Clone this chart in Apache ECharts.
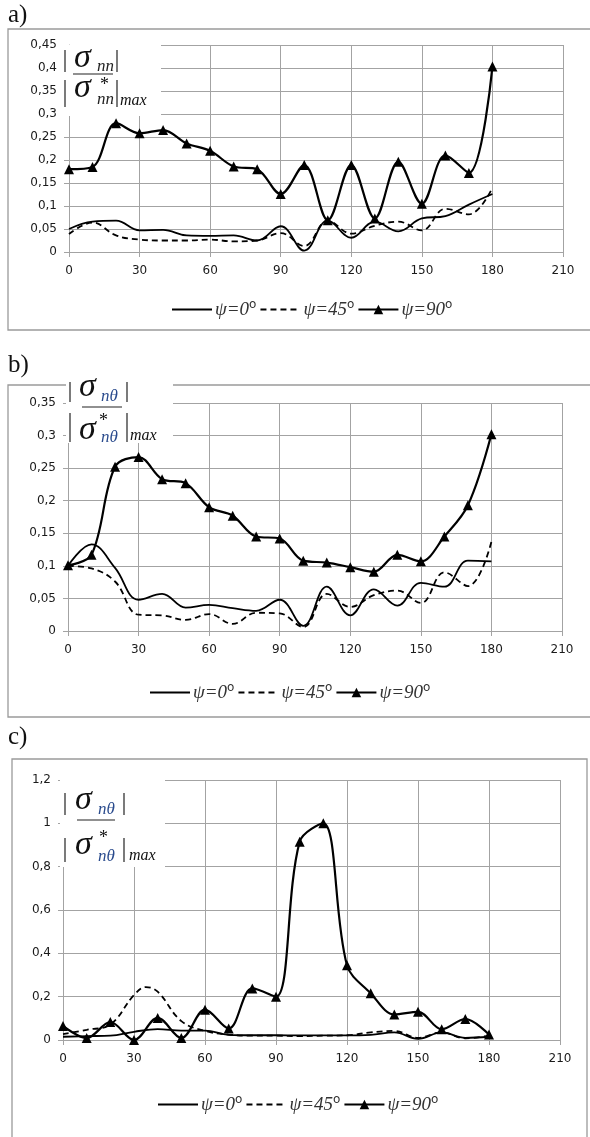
<!DOCTYPE html>
<html>
<head>
<meta charset="utf-8">
<script src="https://cdn.jsdelivr.net/npm/echarts@6/dist/echarts.min.js"></script>
<style>
html,body{margin:0;padding:0;background:#fff;}
#chart{width:590px;height:1137px;}
</style>
</head>
<body>
<div id="chart"></div>
<script>
// ---------- data ----------
const angles = [0,10,20,30,40,50,60,70,80,90,100,110,120,130,140,150,160,170,180];
const xTicks = [0,30,60,90,120,150,180,210];
const seriesNames = ['ψ=0°','ψ=45°','ψ=90°'];

// panel a)  |σnn| / |σ*nn|max
const a_psi0  = [0.05,0.066,0.068,0.047,0.048,0.036,0.035,0.036,0.025,0.056,0.003,0.068,0.031,0.066,0.045,0.073,0.078,0.103,0.126];
const a_psi45 = [0.039,0.064,0.036,0.027,0.025,0.025,0.027,0.023,0.025,0.041,0.013,0.068,0.04,0.057,0.066,0.047,0.094,0.082,0.14];
const a_psi90 = [0.18,0.185,0.28,0.258,0.265,0.236,0.22,0.186,0.18,0.126,0.189,0.069,0.189,0.073,0.196,0.105,0.21,0.172,0.403];
const a_yTicks = ['0','0,05','0,1','0,15','0,2','0,25','0,3','0,35','0,4','0,45'];

// panel b)  |σnθ| / |σ*nθ|max
const b_psi0  = [0.1,0.133,0.097,0.048,0.057,0.036,0.04,0.035,0.031,0.048,0.008,0.068,0.024,0.064,0.039,0.074,0.068,0.108,0.107];
const b_psi45 = [0.1,0.096,0.076,0.025,0.024,0.017,0.026,0.011,0.028,0.027,0.006,0.057,0.037,0.055,0.062,0.043,0.09,0.069,0.137];
const b_psi90 = [0.101,0.117,0.252,0.267,0.233,0.227,0.19,0.177,0.145,0.142,0.108,0.105,0.098,0.091,0.117,0.107,0.145,0.193,0.302];
const b_yTicks = ['0','0,05','0,1','0,15','0,2','0,25','0,3','0,35'];

// panel c)  |σnθ| / |σ*nθ|max
const c_psi0  = [0.015,0.018,0.02,0.038,0.05,0.043,0.043,0.024,0.022,0.022,0.021,0.021,0.021,0.024,0.035,0.005,0.035,0.01,0.015];
const c_psi45_angles = [0,10,20,30,35,40,50,60,70,80,90,100,110,120,130,140,150,160,170,180];
const c_psi45 = [0.027,0.047,0.072,0.207,0.244,0.223,0.087,0.042,0.025,0.02,0.02,0.018,0.02,0.022,0.035,0.042,0.01,0.035,0.008,0.02];
const c_psi90 = [0.065,0.009,0.083,0.0,0.102,0.009,0.14,0.053,0.238,0.2,0.915,1.0,0.345,0.216,0.118,0.13,0.05,0.097,0.025];
const c_yTicks = ['0','0,2','0,4','0,6','0,8','1','1,2'];

// ---------- helpers ----------
const GRAY = '#a3a3a3';
const LABEL = {color:'#1a1a1a', fontFamily:'DejaVu Sans', fontSize:12};
const pairs = (arr, xs) => arr.map((v,i)=>[(xs||angles)[i], v]);
const fmt = v => String(+v.toFixed(2)).replace('.', ',');

const grids = [
  {left:69, top:45,  width:494, height:207},
  {left:68, top:403, width:494, height:228},
  {left:63, top:780, width:497, height:260}
];
const yLabelSets = [a_yTicks, b_yTicks, c_yTicks];
const yStep = [0.05, 0.05, 0.2];
const dataSets = [
  [pairs(a_psi0), pairs(a_psi45), pairs(a_psi90)],
  [pairs(b_psi0), pairs(b_psi45), pairs(b_psi90)],
  [pairs(c_psi0), pairs(c_psi45, c_psi45_angles), pairs(c_psi90)]
];

const xAxes = grids.map((g,i)=>({
  type:'value', gridIndex:i, min:xTicks[0], max:xTicks[xTicks.length-1], interval:xTicks[1]-xTicks[0],
  axisLine:{show:true, lineStyle:{color:GRAY, width:1}},
  axisTick:{show:true, length:5, lineStyle:{color:GRAY}},
  splitLine:{show:true, lineStyle:{color:GRAY, width:1}},
  axisLabel:Object.assign({margin:13, formatter:v=>String(v)}, LABEL)
}));
const yAxes = grids.map((g,i)=>({
  type:'value', gridIndex:i, min:0, max:parseFloat(yLabelSets[i][yLabelSets[i].length-1].replace(',','.')), interval:yStep[i],
  axisLine:{show:true, lineStyle:{color:GRAY, width:1}},
  axisTick:{show:true, length:5, lineStyle:{color:GRAY}},
  splitLine:{show:true, lineStyle:{color:GRAY, width:1}},
  axisLabel:Object.assign({margin:12, formatter:v=>fmt(v)}, LABEL)
}));

const series = [];
dataSets.forEach((set,i)=>{
  series.push({name:seriesNames[0], type:'line', xAxisIndex:i, yAxisIndex:i, data:set[0],
    smooth:0.4, symbol:'none', lineStyle:{color:'#000', width:1.8}, itemStyle:{color:'#000'}, z:3});
  series.push({name:seriesNames[1], type:'line', xAxisIndex:i, yAxisIndex:i, data:set[1],
    smooth:0.4, symbol:'none', lineStyle:{color:'#000', width:1.8, type:[6,4]}, itemStyle:{color:'#000'}, z:3});
  series.push({name:seriesNames[2], type:'line', xAxisIndex:i, yAxisIndex:i, data:set[2],
    smooth:0.35, symbol:'triangle', symbolSize:10, lineStyle:{color:'#000', width:2.2}, itemStyle:{color:'#000'}, z:4});
});

const legendTops = [294, 677, 1089];
const legendLefts = [166, 144, 152];
const noSym = {color:'rgba(0,0,0,0)', borderWidth:0, opacity:0};
const legends = legendTops.map((t,i)=>({
  data:[{name:seriesNames[0], itemStyle:noSym}, {name:seriesNames[1], itemStyle:noSym}, {name:seriesNames[2]}],
  left:legendLefts[i], top:t, orient:'horizontal',
  itemWidth:40, itemHeight:12, itemGap:3, selectedMode:false,
  formatter:n=>n.replace('°','{d|o}'),
  textStyle:{fontFamily:'Liberation Serif', fontStyle:'italic', fontSize:19, color:'#333', padding:[0,0,0,-2],
    rich:{d:{fontFamily:'DejaVu Sans', fontStyle:'normal', fontSize:12, color:'#333', padding:[0,0,9,0]}}}
}));

// fraction labels (axis titles)
function frac(p){
  const els = [];
  els.push({type:'rect', shape:{x:p.bx, y:p.by, width:p.bw, height:p.bh}, style:{fill:'#fff'}, z:50});
  const bar = (x,y1,y2)=>({type:'line', shape:{x1:x,y1:y1,x2:x,y2:y2}, style:{stroke:'#222', lineWidth:1.2}, z:51});
  const txt = (s,x,y,size,color,italic)=>({type:'text', x:x, y:y, z:51,
    style:{text:s, font:(italic?'italic ':'')+size+'px "Liberation Serif"', fill:color||'#111', verticalAlign:'middle', align:'left'}});
  els.push(bar(p.lx, p.t1, p.t2));
  els.push(txt('σ', p.sx, p.ts, 34, '#111', true));
  els.push(txt(p.sub, p.subx, p.tsub, 17, p.subColor, true));
  els.push(bar(p.rx, p.t1, p.t2));
  els.push({type:'line', shape:{x1:p.fl1, y1:p.fy, x2:p.fl2, y2:p.fy}, style:{stroke:'#222', lineWidth:1.2}, z:51});
  els.push(bar(p.lx, p.b1, p.b2));
  els.push(txt('σ', p.sx, p.bs, 34, '#111', true));
  els.push(txt('*', p.stx, p.bst, 18, '#111', false));
  els.push(txt(p.sub, p.subx, p.bsub, 17, p.subColor, true));
  els.push(bar(p.rx, p.b1, p.b2));
  els.push(txt('max', p.mx, p.bm, 16, '#111', true));
  return els;
}
const fracA = frac({bx:62, by:45, bw:99, bh:71, lx:65, rx:117, sx:74, subx:97, stx:100, mx:120, sub:'nn', subColor:'#222',
  t1:50, t2:72, ts:58, tsub:67, fy:74, fl1:73, fl2:113, b1:80, b2:107, bs:88, bst:85, bsub:100, bm:101});
const fracB = frac({bx:66, by:379, bw:107, bh:64, lx:70, rx:127, sx:79, subx:101, stx:99, mx:130, sub:'nθ', subColor:'#2a4b8d',
  t1:382, t2:402, ts:387, tsub:397, fy:407, fl1:82, fl2:122, b1:413, b2:442, bs:430, bst:421, bsub:438, bm:436});
const fracC = frac({bx:60, by:777, bw:105, bh:90, lx:65, rx:124, sx:75, subx:98, stx:99, mx:129, sub:'nθ', subColor:'#2a4b8d',
  t1:793, t2:815, ts:800, tsub:810, fy:820, fl1:77, fl2:115, b1:838, b2:862, bs:845, bst:838, bsub:857, bm:856});

const panelLabel = (s,x,y)=>({type:'text', x:x, y:y, z:60,
  style:{text:s, font:'25px "Liberation Serif"', fill:'#111', verticalAlign:'top'}});
const box = (x,y,w,h)=>({type:'rect', shape:{x:x,y:y,width:w,height:h}, z:0,
  style:{fill:'none', stroke:'#9a9a9a', lineWidth:1.3}});

const graphic = [
  box(8,29,600,301), box(8,385,600,332), box(12,759,575,400),
  panelLabel('a)',8,3), panelLabel('b)',8,353), panelLabel('c)',8,725)
].concat(fracA, fracB, fracC);

const chart = echarts.init(document.getElementById('chart'), null, {renderer:'canvas'});
chart.setOption({
  animation:false,
  backgroundColor:'#fff',
  grid:grids,
  xAxis:xAxes,
  yAxis:yAxes,
  legend:legends,
  series:series,
  graphic:graphic
});
</script>
</body>
</html>
